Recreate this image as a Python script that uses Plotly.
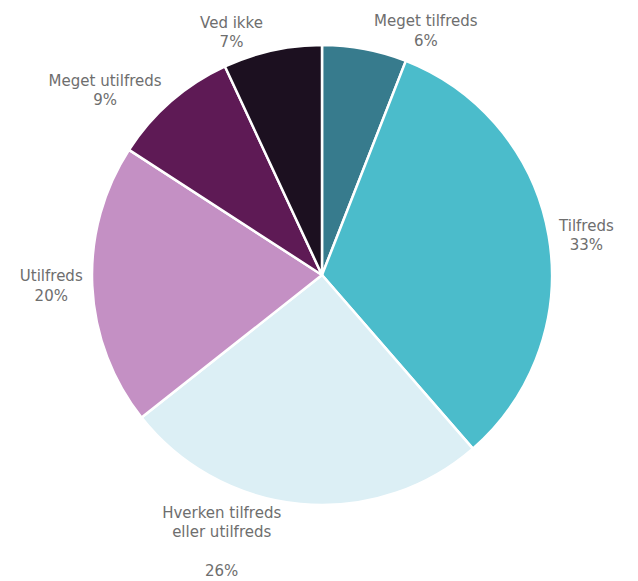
import plotly.graph_objects as go

categories = ["Meget tilfreds", "Tilfreds", "Hverken tilfreds<br>eller utilfreds", "Utilfreds", "Meget utilfreds", "Ved ikke"]
values = [6, 33, 26, 20, 9, 7]
colors = ["#377B8D", "#4BBCCB", "#DCEFF5", "#C490C4", "#5E1A55", "#1C1020"]
texts = [f"{c}<br>{v}%" if i != 2 else f"{c}<br><br>{v}%" for i, (c, v) in enumerate(zip(categories, values))]

fig = go.Figure(go.Pie(
    labels=categories,
    values=values,
    text=texts,
    textinfo="text",
    textposition="outside",
    sort=False,
    direction="clockwise",
    rotation=0,
    marker=dict(colors=colors, line=dict(color="white", width=2.5)),
    textfont=dict(family="DejaVu Sans", size=15, color="#6E6E6E"),
    showlegend=False,
    hoverinfo="label+value",
))

fig.update_layout(
    width=638, height=581,
    margin=dict(l=84, r=94, t=37, b=84),
    paper_bgcolor="white",
    plot_bgcolor="white",
)

fig.write_html("out.html")
